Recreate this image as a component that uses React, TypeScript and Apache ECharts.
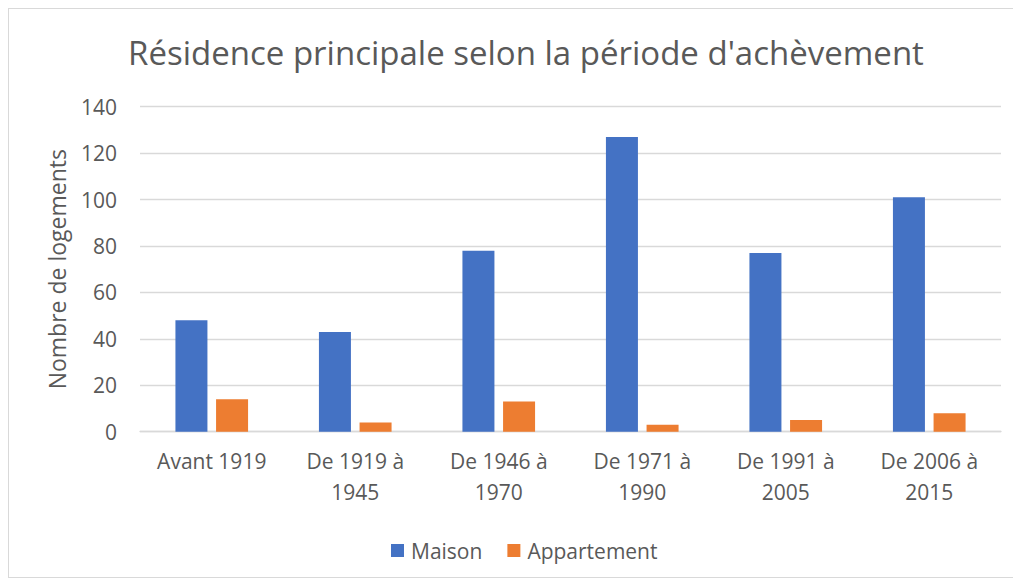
import React, { useEffect, useRef } from "react";
import * as echarts from "echarts";

const categories = [
  "Avant 1919",
  "De 1919 à\n1945",
  "De 1946 à\n1970",
  "De 1971 à\n1990",
  "De 1991 à\n2005",
  "De 2006 à\n2015",
];
const maison = [48, 43, 78, 127, 77, 101];
const appartement = [14, 4, 13, 3, 5, 8];
const titleText = "Résidence principale selon la période d'achèvement";
const yAxisName = "Nombre de logements";

const FONT = "'Open Sans', sans-serif";
const TXT = "#595959";

export default function App() {
  const ref = useRef<HTMLDivElement>(null);
  useEffect(() => {
    if (!ref.current) return;
    const chart = echarts.init(ref.current, null, { renderer: "svg" });
    chart.setOption({
      animation: false,
      backgroundColor: "#ffffff",
      textStyle: { fontFamily: FONT },
      graphic: [
        {
          type: "text",
          x: 517,
          y: 43,
          style: {
            text: titleText,
            fontFamily: FONT,
            fontSize: 33,
            fill: TXT,
            align: "center",
            verticalAlign: "middle",
          },
        },
      ],
      legend: {
        left: 377,
        top: 526,
        itemWidth: 13,
        itemHeight: 13,
        itemGap: 25,
        icon: "rect",
        textStyle: { fontFamily: FONT, fontSize: 21, color: TXT, padding: [0, 0, 0, 2] },
        data: ["Maison", "Appartement"],
      },
      grid: { left: 131, right: 19, top: 97.7, bottom: 145.3 },
      xAxis: {
        type: "category",
        data: categories,
        axisLine: { show: true, lineStyle: { color: "#d9d9d9", width: 1.3 } },
        axisTick: { show: false },
        axisLabel: {
          interval: 0,
          margin: 14,
          lineHeight: 31,
          fontFamily: FONT,
          fontSize: 21,
          color: TXT,
        },
      },
      yAxis: {
        type: "value",
        min: 0,
        max: 140,
        interval: 20,
        name: yAxisName,
        nameLocation: "middle",
        nameGap: 72,
        nameTextStyle: { fontFamily: FONT, fontSize: 23, color: TXT },
        axisLine: { show: false },
        axisTick: { show: false },
        axisLabel: { margin: 23, fontFamily: FONT, fontSize: 21, color: TXT },
        splitLine: { lineStyle: { color: "#d9d9d9", width: 1.3 } },
      },
      series: [
        {
          name: "Maison",
          type: "bar",
          data: maison,
          barWidth: 32,
          barGap: "27%",
          itemStyle: { color: "#4472C4" },
        },
        {
          name: "Appartement",
          type: "bar",
          data: appartement,
          barWidth: 32,
          barGap: "27%",
          itemStyle: { color: "#ED7D31" },
        },
      ],
    });
    return () => chart.dispose();
  }, []);
  return (
    <div
      ref={ref}
      style={{
        width: 1013,
        height: 570,
        border: "1px solid #d9d9d9",
        boxSizing: "border-box",
      }}
    />
  );
}
